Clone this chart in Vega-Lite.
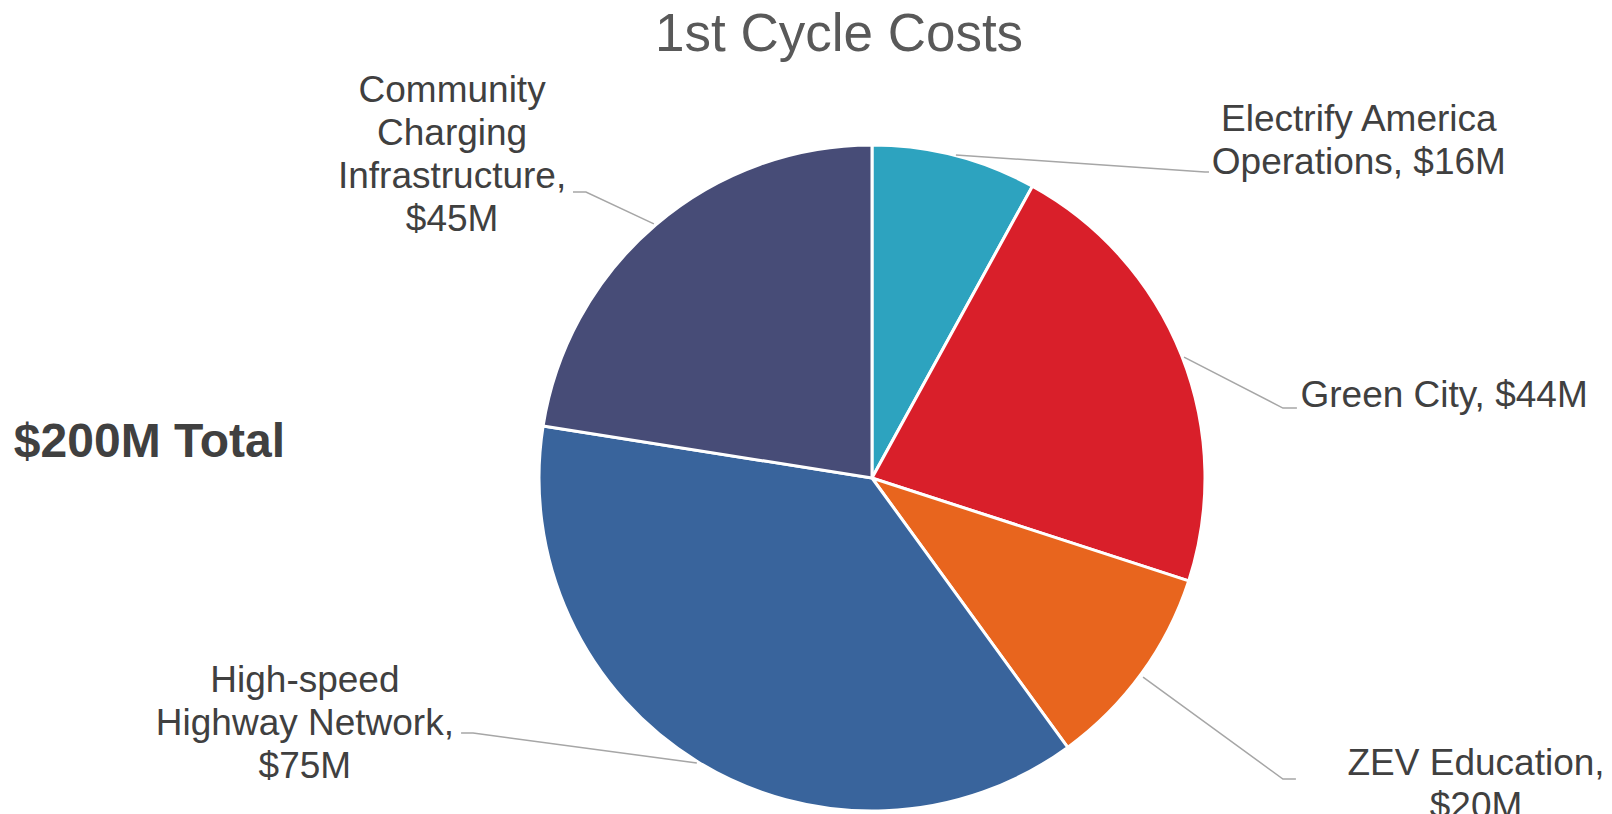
{
  "$schema": "https://vega.github.io/schema/vega-lite/v6.json",
  "width": 666,
  "height": 666,
  "autosize": {"type": "none"},
  "padding": {"left": 539, "top": 145, "right": 407, "bottom": 3},
  "background": "white",
  "config": {"view": {"stroke": null}},
  "datasets": {
    "costs": [
      {"category": "Electrify America Operations", "cost": 16, "rank": 1},
      {"category": "Green City", "cost": 44, "rank": 2},
      {"category": "ZEV Education", "cost": 20, "rank": 3},
      {"category": "High-speed Highway Network", "cost": 75, "rank": 4},
      {"category": "Community Charging Infrastructure", "cost": 45, "rank": 5}
    ],
    "labels": [
      {"category": "Electrify America Operations", "label": "Electrify America\nOperations, $16M", "lx": 1.462, "ly": 1.042},
      {"category": "Green City", "label": "Green City, $44M", "lx": 1.718, "ly": 0.213},
      {"category": "ZEV Education", "label": "ZEV Education,\n$20M", "lx": 1.814, "ly": -0.892},
      {"category": "High-speed Highway Network", "label": "High-speed\nHighway Network,\n$75M", "lx": -1.703, "ly": -0.643},
      {"category": "Community Charging Infrastructure", "label": "Community\nCharging\nInfrastructure,\n$45M", "lx": -1.261, "ly": 1.129}
    ],
    "leaders": [
      {"category": "Electrify America Operations", "step": 1, "lx": 0.252, "ly": 0.970},
      {"category": "Electrify America Operations", "step": 2, "lx": 1.0, "ly": 0.919},
      {"category": "Electrify America Operations", "step": 3, "lx": 1.012, "ly": 0.919},
      {"category": "Green City", "step": 1, "lx": 0.937, "ly": 0.363},
      {"category": "Green City", "step": 2, "lx": 1.234, "ly": 0.210},
      {"category": "Green City", "step": 3, "lx": 1.276, "ly": 0.210},
      {"category": "ZEV Education", "step": 1, "lx": 0.814, "ly": -0.598},
      {"category": "ZEV Education", "step": 2, "lx": 1.234, "ly": -0.904},
      {"category": "ZEV Education", "step": 3, "lx": 1.273, "ly": -0.904},
      {"category": "High-speed Highway Network", "step": 1, "lx": -0.526, "ly": -0.856},
      {"category": "High-speed Highway Network", "step": 2, "lx": -1.198, "ly": -0.766},
      {"category": "High-speed Highway Network", "step": 3, "lx": -1.234, "ly": -0.766},
      {"category": "Community Charging Infrastructure", "step": 1, "lx": -0.655, "ly": 0.763},
      {"category": "Community Charging Infrastructure", "step": 2, "lx": -0.859, "ly": 0.859},
      {"category": "Community Charging Infrastructure", "step": 3, "lx": -0.898, "ly": 0.859}
    ],
    "notes": [
      {"note": "$200M Total", "lx": -2.577, "ly": 0.063}
    ],
    "titles": [
      {"title": "1st Cycle Costs", "lx": -0.099, "ly": 1.282}
    ]
  },
  "layer": [
    {
      "data": {"name": "costs"},
      "mark": {"type": "arc", "stroke": "white", "strokeWidth": 3},
      "encoding": {
        "theta": {"field": "cost", "type": "quantitative", "stack": true},
        "order": {"field": "rank", "type": "quantitative"},
        "color": {
          "field": "category",
          "type": "nominal",
          "scale": {
            "domain": ["Electrify America Operations", "Green City", "ZEV Education", "High-speed Highway Network", "Community Charging Infrastructure"],
            "range": ["#2DA3BF", "#D91F2A", "#E8651E", "#39649C", "#474C77"]
          },
          "legend": null
        }
      }
    },
    {
      "data": {"name": "leaders"},
      "mark": {"type": "line", "color": "#A6A6A6", "strokeWidth": 1.5},
      "encoding": {
        "x": {"field": "lx", "type": "quantitative", "scale": {"domain": [-1, 1], "nice": false, "zero": false}, "axis": null},
        "y": {"field": "ly", "type": "quantitative", "scale": {"domain": [-1, 1], "nice": false, "zero": false}, "axis": null},
        "detail": {"field": "category", "type": "nominal"},
        "order": {"field": "step", "type": "quantitative"}
      }
    },
    {
      "data": {"name": "labels"},
      "mark": {"type": "text", "font": "Liberation Sans", "fontSize": 37, "color": "#404040", "lineBreak": "\n", "lineHeight": 43, "align": "center", "baseline": "alphabetic"},
      "encoding": {
        "x": {"field": "lx", "type": "quantitative", "scale": {"domain": [-1, 1], "nice": false, "zero": false}, "axis": null},
        "y": {"field": "ly", "type": "quantitative", "scale": {"domain": [-1, 1], "nice": false, "zero": false}, "axis": null},
        "text": {"field": "label", "type": "nominal"}
      }
    },
    {
      "data": {"name": "notes"},
      "mark": {"type": "text", "font": "Liberation Sans", "fontSize": 48, "fontWeight": "bold", "color": "#404040", "align": "left", "baseline": "alphabetic"},
      "encoding": {
        "x": {"field": "lx", "type": "quantitative", "scale": {"domain": [-1, 1], "nice": false, "zero": false}, "axis": null},
        "y": {"field": "ly", "type": "quantitative", "scale": {"domain": [-1, 1], "nice": false, "zero": false}, "axis": null},
        "text": {"field": "note", "type": "nominal"}
      }
    },
    {
      "data": {"name": "titles"},
      "mark": {"type": "text", "font": "Liberation Sans", "fontSize": 53, "color": "#595959", "align": "center", "baseline": "alphabetic"},
      "encoding": {
        "x": {"field": "lx", "type": "quantitative", "scale": {"domain": [-1, 1], "nice": false, "zero": false}, "axis": null},
        "y": {"field": "ly", "type": "quantitative", "scale": {"domain": [-1, 1], "nice": false, "zero": false}, "axis": null},
        "text": {"field": "title", "type": "nominal"}
      }
    }
  ]
}
